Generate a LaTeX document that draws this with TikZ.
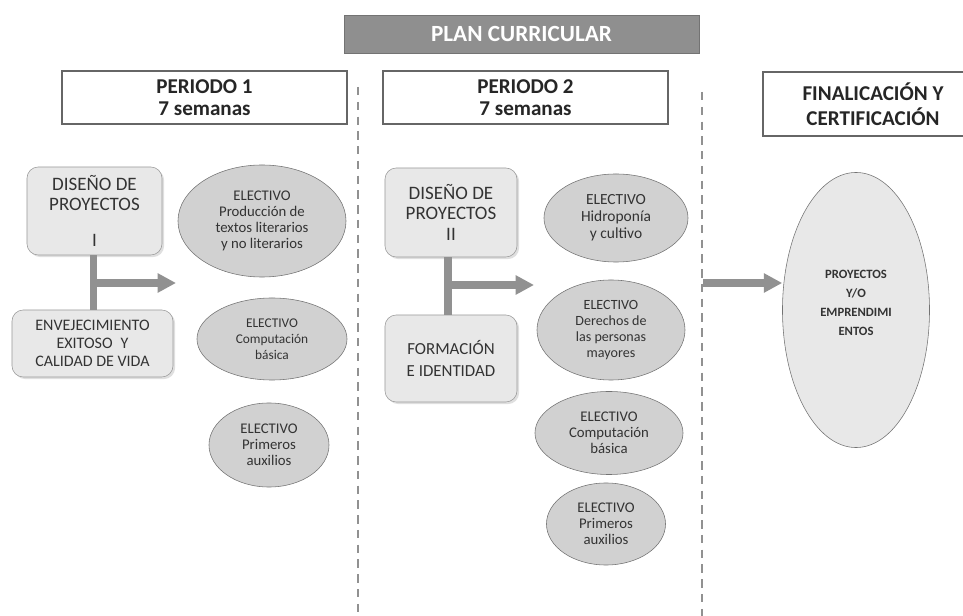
\documentclass[tikz,border=0pt]{standalone}
\usepackage{fontspec}
\setmainfont{Carlito}
\usetikzlibrary{arrows.meta, positioning, shapes.geometric, shadows}
\definecolor{boxgray}{rgb}{0.91,0.91,0.91}
\definecolor{ovalgray}{rgb}{0.82,0.82,0.82}
\definecolor{linegray}{rgb}{0.57,0.57,0.57}
\definecolor{titlegray}{rgb}{0.56,0.56,0.56}
\tikzset{
  title/.style={draw=black!55, fill=titlegray, text=white, minimum width=8.875cm, minimum height=0.95cm,
    font=\bfseries\fontsize{16.5}{18}\selectfont},
  period/.style={draw=black!60, line width=1pt, fill=white, align=center, text=black!85,
    minimum width=7.125cm, minimum height=1.325cm, font=\bfseries\fontsize{15}{16}\selectfont,
    drop shadow={shadow xshift=1pt, shadow yshift=-1pt, opacity=.25}},
  course/.style={draw=black!40, rounded corners=8pt, fill=boxgray, align=center, text=black!80,
    inner sep=2pt, drop shadow={shadow xshift=1.5pt, shadow yshift=-1.5pt, opacity=.25}},
  elective/.style={ellipse, draw=black!55, fill=ovalgray, align=center, inner sep=0pt, text=black!80},
  link/.style={linegray, line width=5pt},
  flow/.style={linegray, line width=5pt, -{Triangle[length=13pt, width=13pt]}},
  divider/.style={linegray, line width=1.9pt, dash pattern=on 6pt off 4.5pt}
}

\begin{document}
\begin{tikzpicture}[x=0.025cm, y=-0.025cm]
    \useasboundingbox (0,0) rectangle (963,616);

    % encabezados
    \node[title] (plan) at (521.5,34) {PLAN CURRICULAR};
    \node[period] (per1) at (204.5,97.5) {PERIODO 1\\7 semanas};
    \node[period] (per2) at (525.5,97.5) {PERIODO 2\\7 semanas};
    \node[period, minimum width=5.5cm, minimum height=1.6cm,
          font=\bfseries\fontsize{15}{17.5}\selectfont] (fin) at (873,104) {FINALICACIÓN Y\\CERTIFICACIÓN};

    % separadores
    \coordinate (sep1top) at (358,87);
    \coordinate (sep1bot) at (358,616);
    \coordinate (sep2top) at (702,92);
    \coordinate (sep2bot) at (702,616);
    \draw[divider] (sep1top) -- (sep1bot);
    \draw[divider] (sep2top) -- (sep2bot);

    % periodo 1
    \node[course, minimum width=3.375cm, minimum height=2.2cm, font=\fontsize{13.5}{14}\selectfont]
        (dp1) at (94.5,211) {DISEÑO DE\\PROYECTOS\\[12pt]I};
    \node[course, minimum width=4.025cm, minimum height=1.675cm, font=\fontsize{11.4}{13}\selectfont]
        (env) at (92.5,343.5) {ENVEJECIMIENTO\\EXITOSO\enspace Y\\CALIDAD DE VIDA};
    \node[elective, minimum width=4.2cm, minimum height=2.8cm, font=\fontsize{10.5}{11.2}\selectfont]
        (prod) at (262,221) {ELECTIVO\\Producción de\\textos literarios\\y no literarios};
    \node[elective, minimum width=3.75cm, minimum height=2.05cm, font=\fontsize{9.5}{11.2}\selectfont]
        (comp1) at (272,339) {ELECTIVO\\Computación\\básica};
    \node[elective, minimum width=3cm, minimum height=2.1cm, font=\fontsize{10.5}{11.4}\selectfont]
        (aux1) at (269,445) {ELECTIVO\\Primeros\\auxilios};

    \coordinate (fork1) at (93.5,283);
    \coordinate (tip1) at (176,283);
    \draw[link] (dp1.south -| fork1) -- (env.north -| fork1);
    \draw[flow] (fork1) -- (tip1);

    % periodo 2
    \node[course, minimum width=3.3cm, minimum height=2.225cm, font=\fontsize{13.5}{14}\selectfont]
        (dp2) at (451,212.5) {DISEÑO DE\\PROYECTOS\\[1pt]II};
    \node[course, minimum width=3.3cm, minimum height=2.175cm, font=\fontsize{12}{15.5}\selectfont]
        (form) at (451,358.5) {FORMACIÓN\\E IDENTIDAD};
    \node[elective, minimum width=3.6cm, minimum height=2.2cm, font=\fontsize{11}{12}\selectfont]
        (hidro) at (616,218) {ELECTIVO\\Hidroponía\\y cultivo};
    \node[elective, minimum width=3.7cm, minimum height=2.5cm, font=\fontsize{10}{11.2}\selectfont]
        (der) at (611,330) {ELECTIVO\\Derechos de\\las personas\\mayores};
    \node[elective, minimum width=3.7cm, minimum height=2.075cm, font=\fontsize{10.5}{11.2}\selectfont]
        (comp2) at (609,433) {ELECTIVO\\Computación\\básica};
    \node[elective, minimum width=2.975cm, minimum height=2.05cm, font=\fontsize{10.5}{11.2}\selectfont]
        (aux2) at (606,524) {ELECTIVO\\Primeros\\auxilios};

    \coordinate (fork2) at (448,285);
    \coordinate (tip2) at (534,285);
    \draw[link] (dp2.south -| fork2) -- (form.north -| fork2);
    \draw[flow] (fork2) -- (tip2);

    % cierre
    \node[ellipse, draw=black!55, fill=boxgray, minimum width=3.675cm, minimum height=6.875cm,
          align=center, inner sep=0pt, text=black!80, font=\bfseries\fontsize{9}{13.5}\selectfont,
          general shadow={shadow scale=1.03, shadow yshift=-1.5pt, shadow xshift=-1pt, opacity=.2}]
        (proy) at (856,310) {PROYECTOS\\Y/O\\EMPRENDIMI\\ENTOS\\[-3pt]};
    \coordinate (start3) at (703,283);
    \draw[flow] (start3) -- (start3 -| proy.west);
\end{tikzpicture}
\end{document}
